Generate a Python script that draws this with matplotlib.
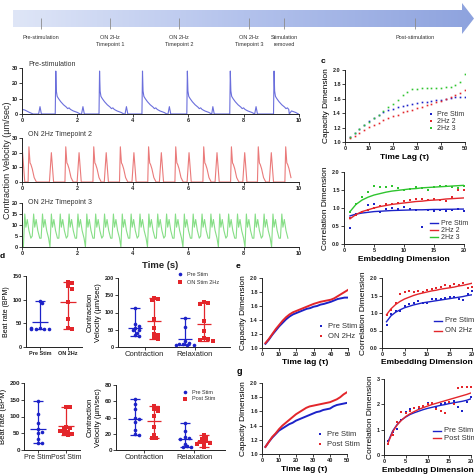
import numpy as np
import matplotlib
matplotlib.use('Agg')
import matplotlib.pyplot as plt
from matplotlib.patches import Polygon
from matplotlib.colors import LinearSegmentedColormap

plt.rcParams['font.family'] = ['Liberation Sans', 'DejaVu Sans']

# ---------------- data ----------------
timeline_x = [41, 110, 179, 249, 284, 415]
timeline_labels = ['Pre-stimulation', 'ON 2Hz\nTimepoint 1', 'ON 2Hz\nTimepoint 2',
                   'ON 2Hz\nTimepoint 3', 'Stimulation\nremoved', 'Post-stimulation']

# pre-stimulation trace: big beats, small beats, beat shapes
pre_big_onsets = [1.20, 2.78, 4.33, 5.95, 7.50, 9.08]
pre_small_onsets = [0.60, 2.15, 3.72, 5.27, 6.84, 8.40]
pre_big_t = [0, 0.02, 0.04, 0.07, 0.12, 0.20, 0.30, 0.40, 0.45, 0.50, 0.55, 0.65, 0.80, 0.90]
pre_big_v = [0, 28, 15, 11.5, 10, 8, 6, 4.5, 3.5, 4, 3, 2, 1, 0]
pre_small_t = [0, 0.05, 0.10]
pre_small_v = [0, 4.8, 0]
pre_tail_t = [0, 0.1, 0.25, 0.40]
pre_tail_v = [3, 2.6, 1.2, 0]

# ON 2Hz timepoint 2 trace
red_tall_onsets = [0.22, 1.55, 2.56, 3.52, 4.54, 5.52, 6.53, 7.53, 8.50, 9.49]
red_small_onsets = [-0.05, 0.99, 1.99, 2.97, 3.97, 4.96, 5.96, 6.97, 7.97, 8.93]
red_tall_t = [0, 0.03, 0.07, 0.10, 0.15, 0.22, 0.30]
red_tall_v = [0, 24, 13, 12, 9, 3, 0]
red_small_t = [0, 0.07, 0.15]
red_small_v = [0, 20, 0]

# ON 2Hz timepoint 3 trace
green_onsets = [0.05, 0.37, 0.69, 1.01, 1.33, 1.65, 1.97, 2.29, 2.61, 2.93,
                3.25, 3.57, 3.89, 4.21, 4.53, 4.85, 5.17, 5.49, 5.81, 6.13,
                6.45, 6.77, 7.09, 7.41, 7.73, 8.05, 8.37, 8.69, 9.01, 9.33]
green_troughs = [0, 5, 4, 0, 4, 5, 4, 0, 4, 5, 4, 0, 4, 5, 0,
                 4, 5, 4, 0, 4, 5, 4, 0, 5, 4, 0, 4, 5, 0, 4]
green_cycle_t = [0.05, 0.09, 0.14, 0.20, 0.27]
green_cycle_v = [15, 9, 12.5, 7.5, 4]

# capacity dimension (time lag 2..50, step 2)
tau = np.arange(2, 51, 2)
c_cap_pre = [1.07, 1.12, 1.18, 1.24, 1.29, 1.34, 1.38, 1.41, 1.44, 1.46, 1.48, 1.50, 1.52,
             1.53, 1.54, 1.55, 1.56, 1.57, 1.58, 1.59, 1.60, 1.61, 1.62, 1.63, 1.63]
c_cap_2hz2 = [1.05, 1.09, 1.13, 1.17, 1.21, 1.24, 1.27, 1.30, 1.33, 1.36, 1.38, 1.41, 1.43,
              1.45, 1.47, 1.49, 1.51, 1.53, 1.55, 1.57, 1.60, 1.62, 1.65, 1.68, 1.72]
c_cap_2hz3 = [1.07, 1.12, 1.18, 1.23, 1.28, 1.33, 1.38, 1.43, 1.48, 1.53, 1.59, 1.65, 1.70,
              1.73, 1.74, 1.75, 1.75, 1.75, 1.75, 1.75, 1.76, 1.77, 1.79, 1.84, 1.95]
e_cap_pre = [1.06, 1.12, 1.19, 1.25, 1.31, 1.36, 1.41, 1.45, 1.48, 1.50, 1.52, 1.54, 1.56,
             1.57, 1.59, 1.60, 1.62, 1.63, 1.645, 1.66, 1.68, 1.70, 1.71, 1.72, 1.72]
e_cap_on = [1.07, 1.13, 1.20, 1.27, 1.33, 1.39, 1.44, 1.48, 1.51, 1.53, 1.55, 1.57, 1.59,
            1.61, 1.63, 1.645, 1.66, 1.67, 1.68, 1.69, 1.71, 1.74, 1.77, 1.80, 1.83]
g_cap_pre = [1.10, 1.17, 1.23, 1.28, 1.33, 1.36, 1.39, 1.42, 1.44, 1.47, 1.49, 1.51, 1.53,
             1.55, 1.57, 1.59, 1.60, 1.62, 1.63, 1.64, 1.67, 1.69, 1.70, 1.71, 1.72]
g_cap_post = [1.10, 1.17, 1.24, 1.29, 1.35, 1.40, 1.44, 1.48, 1.52, 1.56, 1.59, 1.62, 1.65,
              1.67, 1.68, 1.69, 1.70, 1.71, 1.72, 1.73, 1.75, 1.77, 1.80, 1.84, 1.87]

# correlation dimension (embedding dimension 1..20)
emb = np.arange(1, 21)
c_cor_pre_pts = [0.45, 0.82, 0.88, 1.07, 1.10, 0.88, 0.98, 1.00, 0.98, 1.02,
                 0.97, 0.95, 0.47, 0.95, 0.93, 0.95, 0.93, 0.95, 0.98, 0.93]
c_cor_2hz2_pts = [0.72, 0.80, 0.90, 0.95, 1.00, 1.05, 1.10, 1.12, 1.15, 1.20,
                  1.22, 1.25, 1.25, 1.22, 1.25, 1.22, 1.20, 1.30, 1.50, 1.50]
c_cor_2hz3_pts = [0.90, 1.10, 1.30, 1.45, 1.60, 1.58, 1.57, 1.60, 1.55, 1.50,
                  1.52, 1.58, 1.55, 1.50, 1.58, 1.60, 1.60, 1.58, 1.55, 1.60]
c_cor_pre_fit = [0.78, 0.83, 0.86, 0.88, 0.90, 0.91, 0.92, 0.93, 0.935, 0.94,
                 0.945, 0.95, 0.95, 0.955, 0.96, 0.96, 0.965, 0.965, 0.97, 0.97]
c_cor_2hz2_fit = [0.70, 0.82, 0.90, 0.95, 1.00, 1.04, 1.07, 1.10, 1.12, 1.14,
                  1.16, 1.18, 1.19, 1.21, 1.22, 1.23, 1.25, 1.26, 1.27, 1.28]
c_cor_2hz3_fit = [0.90, 1.10, 1.22, 1.30, 1.36, 1.40, 1.44, 1.47, 1.49, 1.51,
                  1.53, 1.54, 1.56, 1.57, 1.58, 1.59, 1.60, 1.61, 1.62, 1.63]

e_cor_pre_pts = [0.67, 0.98, 1.05, 1.05, 1.20, 1.25, 1.28, 1.35, 1.30, 1.28,
                 1.40, 1.40, 1.40, 1.42, 1.45, 1.45, 1.40, 1.38, 1.55, 1.63]
e_cor_on_pts = [0.95, 1.10, 1.30, 1.55, 1.60, 1.62, 1.60, 1.62, 1.60, 1.65,
                1.70, 1.72, 1.75, 1.80, 1.78, 1.82, 1.80, 1.85, 1.72, 1.75]
e_cor_pre_fit = [0.75, 0.92, 1.02, 1.09, 1.15, 1.19, 1.23, 1.26, 1.29, 1.31,
                 1.33, 1.35, 1.37, 1.39, 1.41, 1.43, 1.45, 1.47, 1.50, 1.52]
e_cor_on_fit = [0.95, 1.12, 1.24, 1.33, 1.40, 1.45, 1.50, 1.54, 1.57, 1.60,
                1.63, 1.65, 1.68, 1.70, 1.72, 1.74, 1.77, 1.79, 1.82, 1.85]

g_cor_pre_pts = [0.55, 0.90, 1.02, 1.40, 1.70, 1.80, 1.85, 1.85, 1.90, 2.05,
                 2.00, 1.85, 2.00, 2.05, 2.10, 2.15, 1.90, 1.75, 2.10, 2.30]
g_cor_post_pts = [0.42, 0.80, 1.30, 1.70, 1.65, 1.75, 1.85, 1.90, 1.95, 2.00,
                  2.05, 1.80, 1.75, 1.65, 2.10, 2.00, 2.65, 2.70, 2.70, 2.70]
g_cor_pre_fit = [0.55, 0.95, 1.20, 1.38, 1.50, 1.60, 1.67, 1.73, 1.79, 1.84,
                 1.88, 1.92, 1.96, 1.99, 2.03, 2.06, 2.09, 2.12, 2.16, 2.22]
g_cor_post_fit = [0.50, 0.92, 1.18, 1.37, 1.52, 1.63, 1.72, 1.80, 1.87, 1.93,
                  1.99, 2.04, 2.09, 2.14, 2.19, 2.24, 2.29, 2.34, 2.39, 2.45]

# beat rate / contraction velocity scatter
d_beat_pre = [98, 92, 40, 38, 37, 37, 38, 40]
d_beat_on = [138, 135, 128, 123, 95, 60, 40, 38]
d_cv_pre_con = [112, 68, 62, 56, 50, 48, 42, 35, 33]
d_cv_on_con = [143, 140, 135, 80, 55, 38, 35, 25, 22]
d_cv_pre_rel = [84, 58, 18, 12, 10, 8, 7, 6, 5]
d_cv_on_rel = [130, 128, 126, 75, 45, 25, 22, 20, 18]

f_beat_pre = [145, 108, 80, 62, 55, 50, 32, 22, 22]
f_beat_post = [128, 127, 70, 65, 62, 58, 55, 52, 48, 45]
f_cv_pre_con = [63, 57, 50, 40, 38, 34, 25, 20, 18]
f_cv_post_con = [54, 52, 50, 48, 42, 28, 18, 15, 15]
f_cv_pre_rel = [33, 23, 16, 15, 14, 8, 5, 4, 4]
f_cv_post_rel = [18, 15, 13, 11, 10, 9, 8, 7, 4]

BLUE = '#1c22c8'
RED = '#e3262b'
GREEN = '#2fc42f'

# ---------------- helpers ----------------
W = H = 474
fig = plt.figure(figsize=(4.74, 4.74), dpi=100)


def add_ax(l, t, r, b):
    return fig.add_axes([l / W, 1 - b / H, (r - l) / W, (b - t) / H])


def style(ax, fs=4, bold=True):
    for s in ['top', 'right']:
        ax.spines[s].set_visible(False)
    for s in ['left', 'bottom']:
        ax.spines[s].set_linewidth(0.7)
        ax.spines[s].set_color('#222222')
    ax.tick_params(length=2, width=0.6, pad=1, labelsize=fs, colors='#222222')
    if bold:
        for lab in ax.get_xticklabels() + ax.get_yticklabels():
            lab.set_fontweight('bold')


def build(events):
    ts, vs = [], []
    for onset, tt, vv in events:
        ts.extend(onset + np.array(tt))
        vs.extend(vv)
    ts, vs = np.array(ts), np.array(vs)
    order = np.argsort(ts, kind='stable')
    return ts[order], vs[order]


def swarm(vals, px_y, px_x, d=3.6):
    placed = []
    xs = np.zeros(len(vals))
    for i, v in enumerate(vals):
        y = v * px_y
        for k in [0, 1, -1, 2, -2, 3, -3, 4, -4]:
            x = k * d * 0.6
            if all((x - a) ** 2 + (y - b) ** 2 >= d * d * 0.8 for a, b in placed):
                break
        placed.append((x, y))
        xs[i] = x / px_x
    return xs


def group(ax, c, vals, color, marker, px_y, px_x, mw, cw):
    vals = np.array(vals, dtype=float)
    xs = c + swarm(vals, px_y, px_x)
    ax.vlines(c, vals.min(), vals.max(), color=color, lw=0.9, zorder=2)
    ax.hlines([vals.min(), vals.max()], c - cw, c + cw, color=color, lw=0.9, zorder=2)
    ax.hlines(vals.mean(), c - mw, c + mw, color=color, lw=0.9, zorder=2)
    ax.plot(xs, vals, linestyle='none', marker=marker, ms=2.6, color=color, mew=0, zorder=3)


# ---------------- overlay canvas (pixel coords) ----------------
canvas = fig.add_axes([0, 0, 1, 1], zorder=10)
canvas.patch.set_alpha(0)
canvas.axis('off')

arrow = Polygon([(13, 10), (462, 10), (462, 3), (474, 18.5), (462, 34), (462, 27), (13, 27)],
                closed=True, facecolor='none', edgecolor='none')
canvas.add_patch(arrow)
cmap = LinearSegmentedColormap.from_list('tl', ['#dfe6f7', '#b3c2ec', '#8ea3de'])
img = canvas.imshow(np.linspace(0, 1, 256).reshape(1, -1), cmap=cmap, aspect='auto',
                    extent=(13, 474, 35, 2), zorder=1)
img.set_clip_path(arrow)
canvas.set_xlim(0, W)
canvas.set_ylim(H, 0)
canvas.vlines(timeline_x, 18, 29, color='#8c8c8c', lw=0.6, zorder=2)
for x, lab in zip(timeline_x, timeline_labels):
    canvas.text(x, 35, lab, ha='center', va='top', fontsize=4, color='#333333', linespacing=1.4)

# ---------------- panel a: traces ----------------
t1, v1 = build([(0, pre_tail_t, pre_tail_v)] +
               [(o, pre_big_t, pre_big_v) for o in pre_big_onsets] +
               [(o, pre_small_t, pre_small_v) for o in pre_small_onsets] +
               [(9.65, [0], [0])])
t2, v2 = build([(o, red_tall_t, red_tall_v) for o in red_tall_onsets] +
               [(o, red_small_t, red_small_v) for o in red_small_onsets])
keep = (t2 >= 0) & (t2 <= 9.75)
t2, v2 = t2[keep], v2[keep]
t3, v3 = build([(o, [0], [tr]) for o, tr in zip(green_onsets, green_troughs)] +
               [(o, green_cycle_t, green_cycle_v) for o in green_onsets])

trace_specs = [
    (68, 114, t1, v1, '#6b6fdc', 30, [0, 10, 20, 30], 'Pre-stimulation', 64),
    (138, 182, t2, v2, '#ea7a7a', 30, [0, 10, 20, 30], 'ON 2Hz Timepoint 2', 135),
    (203, 247, t3, v3, '#86de86', 20, [0, 5, 10, 15, 20], 'ON 2Hz Timepoint 3', 203),
]
for top, bot, tt, vv, col, ymax, yt, title, ty in trace_specs:
    ax = add_ax(22, top, 299, bot)
    ax.plot(tt, vv, color=col, lw=0.8)
    ax.set_xlim(0, 10)
    ax.set_ylim(0, ymax)
    ax.set_xticks([0, 2, 4, 6, 8, 10])
    ax.set_yticks(yt)
    style(ax, 4)
    canvas.text(28, ty, title, fontsize=5, color='#333333', va='center')

canvas.text(8, 160, 'Contraction Velocity (µm/sec)', rotation=90, ha='center', va='center',
            fontsize=6.5, color='#222222')
canvas.text(160, 265, 'Time (s)', ha='center', va='center', fontsize=6.8, color='#222222',
            fontweight='bold')

# ---------------- panel c ----------------
ax = add_ax(345, 70, 465, 142)
for vals, col in [(c_cap_pre, BLUE), (c_cap_2hz2, RED), (c_cap_2hz3, GREEN)]:
    ax.plot(tau, vals, linestyle='none', marker='s', ms=1.2, mew=0, color=col)
ax.set_xlim(0, 50)
ax.set_ylim(1.0, 2.0)
ax.set_xticks([0, 10, 20, 30, 40, 50])
ax.set_yticks([1.0, 1.2, 1.4, 1.6, 1.8, 2.0])
ax.set_yticklabels(['1.0', '1.2', '1.4', '1.6', '1.8', '2.0'])
ax.set_xlabel('Time Lag (τ)', fontsize=6, fontweight='bold', labelpad=2)
ax.set_ylabel('Capacity Dimension', fontsize=6, labelpad=2)
style(ax, 4)
for i, (lab, col) in enumerate([('Pre Stim', BLUE), ('2Hz 2', RED), ('2Hz 3', GREEN)]):
    canvas.plot(431, 114 + 7 * i, 's', ms=1.5, mew=0, color=col)
    canvas.text(437, 114 + 7 * i, lab, fontsize=5, va='center', color='#333333')

ax = add_ax(344, 172, 464, 244)
for pts, fit, col in [(c_cor_pre_pts, c_cor_pre_fit, BLUE), (c_cor_2hz2_pts, c_cor_2hz2_fit, RED),
                      (c_cor_2hz3_pts, c_cor_2hz3_fit, GREEN)]:
    ax.plot(emb, pts, linestyle='none', marker='s', ms=1.5, mew=0, color=col)
    ax.plot(emb, fit, color=col, lw=1)
ax.set_xlim(0, 20)
ax.set_ylim(0, 2.0)
ax.set_xticks([0, 5, 10, 15, 20])
ax.set_yticks([0, 0.5, 1.0, 1.5, 2.0])
ax.set_yticklabels(['0.0', '0.5', '1.0', '1.5', '2.0'])
ax.set_xlabel('Embedding Dimension', fontsize=6, fontweight='bold', labelpad=2)
ax.set_ylabel('Correlation Dimension', fontsize=6, labelpad=2)
style(ax, 4)
for i, (lab, col) in enumerate([('Pre Stim', BLUE), ('2Hz 2', RED), ('2Hz 3', GREEN)]):
    canvas.plot([430, 438], [223 + 7 * i] * 2, color=col, lw=1)
    canvas.text(441, 223 + 7 * i, lab, fontsize=5, va='center', color='#333333')
canvas.text(321, 61, 'c', fontsize=6, fontweight='bold', va='center')

# ---------------- panel d ----------------
ax = add_ax(26, 276, 82, 347)
pyb, pxb = 71 / 150, 28
group(ax, 0, d_beat_pre, BLUE, 'o', pyb, pxb, 0.3, 0.18)
group(ax, 1, d_beat_on, RED, 's', pyb, pxb, 0.3, 0.18)
ax.set_xlim(-0.5, 1.5)
ax.set_ylim(0, 150)
ax.set_yticks([0, 50, 100, 150])
ax.set_xticks([0, 1])
ax.set_xticklabels(['Pre Stim', 'ON 2Hz'])
ax.set_ylabel('Beat rate (BPM)', fontsize=5, labelpad=2)
style(ax, 4)
ax.tick_params(axis='x', labelsize=4)

ax = add_ax(118, 278, 230, 347)
pyc, pxc = 69 / 200, 50
for c, vals, col, mk in [(0.81, d_cv_pre_con, BLUE, 'o'), (1.19, d_cv_on_con, RED, 's'),
                         (1.81, d_cv_pre_rel, BLUE, 'o'), (2.19, d_cv_on_rel, RED, 's')]:
    group(ax, c, vals, col, mk, pyc, pxc, 0.14, 0.1)
ax.set_xlim(0.47, 2.71)
ax.set_ylim(0, 200)
ax.set_yticks([0, 50, 100, 150, 200])
ax.set_xticks([1, 2])
ax.set_xticklabels(['Contraction', 'Relaxation'])
ax.set_ylabel('Contraction\nVelocity (µm/sec)', fontsize=5.5, labelpad=2, linespacing=1.3)
style(ax, 4)
ax.tick_params(axis='x', labelsize=5.5)
for lab in ax.get_xticklabels():
    lab.set_fontweight('normal')
canvas.plot(180, 274, 'o', ms=2.6, mew=0, color=BLUE)
canvas.text(187, 274, 'Pre Stim', fontsize=4, va='center', color='#333333')
canvas.plot(180, 282, 's', ms=2.6, mew=0, color=RED)
canvas.text(187, 282, 'ON Stim 2Hz', fontsize=4, va='center', color='#333333')
canvas.text(0, 256, 'd', fontsize=6, fontweight='bold', va='center')

# ---------------- panel e ----------------
ax = add_ax(262, 278, 348, 348)
ax.plot(tau, e_cap_pre, color=BLUE, lw=1.4)
ax.plot(tau, e_cap_on, color=RED, lw=1.4)
ax.set_xlim(0, 50)
ax.set_ylim(1.0, 2.0)
ax.set_xticks([0, 10, 20, 30, 40, 50])
ax.set_yticks([1.0, 1.2, 1.4, 1.6, 1.8, 2.0])
ax.set_yticklabels(['1.0', '1.2', '1.4', '1.6', '1.8', '2.0'])
ax.set_ylabel('Capacity Dimension', fontsize=6, labelpad=2)
style(ax, 4)
canvas.plot(321, 326, 's', ms=1.5, mew=0, color=BLUE)
canvas.text(328, 326, 'Pre Stim', fontsize=5.5, va='center', color='#333333')
canvas.plot(321, 336, 's', ms=1.5, mew=0, color=RED)
canvas.text(328, 336, 'ON 2Hz', fontsize=5.5, va='center', color='#333333')
canvas.text(236, 267, 'e', fontsize=6, fontweight='bold', va='center')

ax = add_ax(382, 278, 472, 348)
for pts, fit, col in [(e_cor_pre_pts, e_cor_pre_fit, BLUE), (e_cor_on_pts, e_cor_on_fit, RED)]:
    ax.plot(emb, pts, linestyle='none', marker='s', ms=1.5, mew=0, color=col)
    ax.plot(emb, fit, color=col, lw=1)
ax.set_xlim(0, 20)
ax.set_ylim(0, 2.0)
ax.set_xticks([0, 5, 10, 15, 20])
ax.set_yticks([0, 0.5, 1.0, 1.5, 2.0])
ax.set_yticklabels(['0.0', '0.5', '1.0', '1.5', '2.0'])
ax.set_ylabel('Correlation Dimension', fontsize=6, labelpad=2)
style(ax, 4)
canvas.plot([434, 442], [321, 321], color=BLUE, lw=1)
canvas.text(445, 321, 'Pre Stim', fontsize=5.5, va='center', color='#333333')
canvas.plot([434, 442], [331, 331], color=RED, lw=1)
canvas.text(445, 331, 'ON 2Hz', fontsize=5.5, va='center', color='#333333')
canvas.text(305, 363, 'Time lag (τ)', fontsize=6, fontweight='bold', ha='center', va='center')
canvas.text(427, 363, 'Embedding Dimension', fontsize=6, fontweight='bold', ha='center', va='center')

# ---------------- panel f ----------------
ax = add_ax(24, 383, 80, 450)
pyb, pxb = 67 / 200, 28
group(ax, 0, f_beat_pre, BLUE, 'o', pyb, pxb, 0.3, 0.18)
group(ax, 1, f_beat_post, RED, 's', pyb, pxb, 0.3, 0.18)
ax.set_xlim(-0.5, 1.5)
ax.set_ylim(0, 200)
ax.set_yticks([0, 50, 100, 150, 200])
ax.set_xticks([0, 1])
ax.set_xticklabels(['Pre Stim', 'Post Stim'])
ax.set_ylabel('Beat rate (BPM)', fontsize=5.5, labelpad=2)
style(ax, 4.5)
ax.tick_params(axis='x', labelsize=5)
for lab in ax.get_xticklabels():
    lab.set_fontweight('normal')

ax = add_ax(116, 385, 225, 450)
pyc, pxc = 65 / 80, 50
for c, vals, col, mk in [(0.81, f_cv_pre_con, BLUE, 'o'), (1.19, f_cv_post_con, RED, 's'),
                         (1.81, f_cv_pre_rel, BLUE, 'o'), (2.19, f_cv_post_rel, RED, 's')]:
    group(ax, c, vals, col, mk, pyc, pxc, 0.14, 0.1)
ax.set_xlim(0.44, 2.61)
ax.set_ylim(0, 80)
ax.set_yticks([0, 20, 40, 60, 80])
ax.set_xticks([1, 2])
ax.set_xticklabels(['Contraction', 'Relaxation'])
ax.set_ylabel('Contraction\nVelocity (µm/sec)', fontsize=5.5, labelpad=2, linespacing=1.3)
style(ax, 4.5)
ax.tick_params(axis='x', labelsize=5.5)
for lab in ax.get_xticklabels():
    lab.set_fontweight('normal')
canvas.plot(185, 392, 'o', ms=2.6, mew=0, color=BLUE)
canvas.text(192, 392, 'Pre Stim', fontsize=4, va='center', color='#333333')
canvas.plot(185, 399, 's', ms=2.6, mew=0, color=RED)
canvas.text(192, 399, 'Post Stim', fontsize=4, va='center', color='#333333')

# ---------------- panel g ----------------
ax = add_ax(262, 383, 347, 454)
ax.plot(tau, g_cap_pre, color=BLUE, lw=1.4)
ax.plot(tau, g_cap_post, color=RED, lw=1.4)
ax.set_xlim(0, 50)
ax.set_ylim(1.0, 2.0)
ax.set_xticks([0, 10, 20, 30, 40, 50])
ax.set_yticks([1.0, 1.2, 1.4, 1.6, 1.8, 2.0])
ax.set_yticklabels(['1.0', '1.2', '1.4', '1.6', '1.8', '2.0'])
ax.set_xlabel('Time lag (τ)', fontsize=6, fontweight='bold', labelpad=2)
ax.set_ylabel('Capacity Dimension', fontsize=6, labelpad=2)
style(ax, 4)
canvas.plot(320, 434, 's', ms=1.5, mew=0, color=BLUE)
canvas.text(327, 434, 'Pre Stim', fontsize=5.5, va='center', color='#333333')
canvas.plot(320, 444, 's', ms=1.5, mew=0, color=RED)
canvas.text(327, 444, 'Post Stim', fontsize=5.5, va='center', color='#333333')
canvas.text(237, 372, 'g', fontsize=6.5, fontweight='bold', va='center')

ax = add_ax(384, 379, 471, 455)
for pts, fit, col in [(g_cor_pre_pts, g_cor_pre_fit, BLUE), (g_cor_post_pts, g_cor_post_fit, RED)]:
    ax.plot(emb, pts, linestyle='none', marker='s', ms=1.5, mew=0, color=col)
    ax.plot(emb, fit, color=col, lw=1)
ax.set_xlim(0, 20)
ax.set_ylim(0, 3)
ax.set_xticks([0, 5, 10, 15, 20])
ax.set_yticks([0, 1, 2, 3])
ax.set_xlabel('Embedding Dimension', fontsize=6, fontweight='bold', labelpad=2)
ax.set_ylabel('Correlation Dimension', fontsize=6, labelpad=2)
style(ax, 4)
canvas.plot([433, 441], [431, 431], color=BLUE, lw=1)
canvas.text(444, 431, 'Pre Stim', fontsize=5.5, va='center', color='#333333')
canvas.plot([433, 441], [438, 438], color=RED, lw=1)
canvas.text(444, 438, 'Post Stim', fontsize=5.5, va='center', color='#333333')

fig.savefig('out.png', dpi=100)
